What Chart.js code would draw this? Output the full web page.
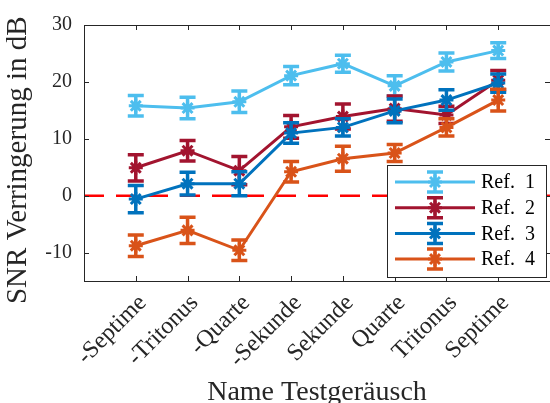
<!DOCTYPE html>
<html>
<head>
<meta charset="utf-8">
<script src="https://cdn.jsdelivr.net/npm/chart.js@4"></script>
<style>
  html, body { margin: 0; padding: 0; background: #fff; overflow: hidden; }
  #wrap { width: 560px; height: 403px; }
</style>
</head>
<body>
<div id="wrap"><canvas id="c" width="560" height="403"></canvas></div>
<script>
// Test signals (interval names) along the x axis
const categories = ['-Septime', '-Tritonus', '-Quarte', '-Sekunde', 'Sekunde', 'Quarte', 'Tritonus', 'Septime'];
const yTicks = [-10, 0, 10, 20, 30];
const seriesNames = ['Ref. 1', 'Ref. 2', 'Ref. 3', 'Ref. 4'];

// Mean SNR reduction (dB) and error half-widths per reference
const ref1 = [15.8, 15.4, 16.5, 21.1, 23.2, 19.3, 23.5, 25.5];
const ref1Err = [1.8, 1.9, 1.9, 1.6, 1.5, 1.8, 1.6, 1.4];
const ref2 = [4.9, 7.9, 4.4, 12.1, 13.9, 15.3, 14.2, 20.3];
const ref2Err = [2.3, 1.8, 2.5, 2.0, 2.2, 2.2, 1.5, 1.7];
const ref3 = [-0.6, 2.1, 2.1, 11.0, 12.0, 14.9, 16.8, 19.8];
const ref3Err = [2.4, 2.0, 2.1, 1.8, 1.5, 2.1, 1.8, 1.6];
const ref4 = [-8.8, -6.1, -9.6, 4.2, 6.5, 7.5, 12.0, 16.8];
const ref4Err = [1.9, 2.3, 1.8, 1.8, 2.2, 1.5, 1.5, 1.9];

const colors = ['#4DBEEE', '#A2142F', '#0072BD', '#D95319'];
const AXIS = '#262626';
const SERIF = '"Liberation Serif", "Times New Roman", serif';

const means = [ref1, ref2, ref3, ref4];
const errs = [ref1Err, ref2Err, ref3Err, ref4Err];

const datasets = means.map((vals, k) => ({
  label: seriesNames[k],
  data: vals.map((v, i) => ({ x: i + 1, y: v })),
  errors: errs[k],
  borderColor: colors[k],
  backgroundColor: colors[k],
  borderWidth: 3,
  pointStyle: 'star',
  pointRadius: 7,
  pointBorderWidth: 3,
  pointBackgroundColor: colors[k],
  pointBorderColor: colors[k],
  tension: 0,
  order: 4 - k,          // later series are painted on top
  inLegend: true
}));

// dashed zero reference line
datasets.push({
  label: 'zero',
  data: [{ x: 0, y: 0 }, { x: categories.length + 1, y: 0 }],
  borderColor: '#FF0000',
  borderWidth: 2.5,
  borderDash: [20, 12],
  pointRadius: 0,
  order: 10,
  inLegend: false
});

const CAP = 8;
const BAR_W = 3.5;

// vertical error bars with caps, drawn right after each series
const errorBars = {
  id: 'errorBars',
  afterDatasetDraw(chart, args) {
    const ds = chart.data.datasets[args.index];
    if (!ds.errors) return;
    const ctx = chart.ctx, xs = chart.scales.x, ys = chart.scales.y;
    ctx.save();
    ctx.strokeStyle = ds.borderColor;
    ctx.lineWidth = BAR_W;
    ctx.lineCap = 'butt';
    ds.data.forEach((p, i) => {
      const e = ds.errors[i];
      const px = xs.getPixelForValue(p.x);
      const t = ys.getPixelForValue(p.y + e);
      const b = ys.getPixelForValue(p.y - e);
      ctx.beginPath();
      ctx.moveTo(px, t); ctx.lineTo(px, b);
      ctx.moveTo(px - CAP, t); ctx.lineTo(px + CAP, t);
      ctx.moveTo(px - CAP, b); ctx.lineTo(px + CAP, b);
      ctx.stroke();
    });
    ctx.restore();
  }
};

// axes box with inward tick marks on all four sides
const axesBox = {
  id: 'axesBox',
  afterDatasetsDraw(chart) {
    const ctx = chart.ctx, a = chart.chartArea;
    const xs = chart.scales.x, ys = chart.scales.y;
    const L = 5;
    ctx.save();
    ctx.strokeStyle = AXIS;
    ctx.lineWidth = 1;
    ctx.beginPath();
    xs.ticks.forEach(t => {
      const px = Math.round(xs.getPixelForValue(t.value)) + 0.5;
      ctx.moveTo(px, a.bottom); ctx.lineTo(px, a.bottom - L);
      ctx.moveTo(px, a.top); ctx.lineTo(px, a.top + L);
    });
    ys.ticks.forEach(t => {
      const py = Math.round(ys.getPixelForValue(t.value)) + 0.5;
      ctx.moveTo(a.left, py); ctx.lineTo(a.left + L, py);
      ctx.moveTo(a.right, py); ctx.lineTo(a.right - L, py);
    });
    ctx.stroke();
    ctx.strokeRect(Math.round(a.left) + 0.5, Math.round(a.top) + 0.5,
                   Math.round(a.right - a.left), Math.round(a.bottom - a.top));
    ctx.restore();
  }
};

// legend box in the lower right corner of the axes
const boxLegend = {
  id: 'boxLegend',
  afterDraw(chart) {
    const ctx = chart.ctx, a = chart.chartArea;
    const items = chart.data.datasets.filter(d => d.inLegend);
    const w = 159, h = 112;
    const x0 = a.right - 4 - w, y0 = a.bottom - 4 - h;
    ctx.save();
    ctx.fillStyle = '#fff';
    ctx.fillRect(x0, y0, w, h);
    ctx.strokeStyle = AXIS;
    ctx.lineWidth = 1;
    ctx.strokeRect(Math.round(x0) + 0.5, Math.round(y0) + 0.5, w, h);
    const rowH = 25.7;
    items.forEach((d, i) => {
      const cy = y0 + 17 + i * rowH;
      const lx0 = x0 + 8, lx1 = x0 + 88, mx = x0 + 48;
      ctx.strokeStyle = d.borderColor;
      ctx.lineWidth = 3;
      ctx.setLineDash([]);
      ctx.beginPath();
      ctx.moveTo(lx0, cy); ctx.lineTo(lx1, cy);
      ctx.stroke();
      ctx.lineWidth = BAR_W;
      ctx.beginPath();
      ctx.moveTo(mx, cy - 10); ctx.lineTo(mx, cy + 10);
      ctx.moveTo(mx - CAP, cy - 10); ctx.lineTo(mx + CAP, cy - 10);
      ctx.moveTo(mx - CAP, cy + 10); ctx.lineTo(mx + CAP, cy + 10);
      ctx.stroke();
      ctx.lineWidth = 3;
      ctx.fillStyle = d.borderColor;
      Chart.helpers.drawPoint(ctx, { pointStyle: 'star', radius: 7, borderWidth: 3, rotation: 0 }, mx, cy);
      ctx.fillStyle = '#000';
      ctx.font = '20px ' + SERIF;
      ctx.textAlign = 'left';
      ctx.textBaseline = 'middle';
      ctx.fillText(d.label.replace('. ', '.\u2002'), x0 + 94, cy + 1);
    });
    ctx.restore();
  }
};

new Chart(document.getElementById('c'), {
  type: 'line',
  data: { datasets },
  options: {
    responsive: false,
    animation: false,
    devicePixelRatio: 1,
    layout: { padding: { top: 25, right: 9, left: 0, bottom: 0 } },
    plugins: { legend: { display: false }, tooltip: { enabled: false } },
    scales: {
      x: {
        type: 'linear',
        min: 0,
        max: categories.length + 1,
        afterBuildTicks: s => { s.ticks = categories.map((c, i) => ({ value: i + 1 })); },
        afterFit: s => { s.height = 122; },
        grid: { display: false, drawTicks: false },
        border: { display: false },
        ticks: {
          autoSkip: false,
          minRotation: 45,
          maxRotation: 45,
          padding: 8,
          labelOffset: 7,
          color: AXIS,
          font: { family: SERIF, size: 24 },
          callback: v => categories[v - 1] || ''
        },
        title: {
          display: true,
          text: 'Name Testgeräusch',
          color: AXIS,
          font: { family: SERIF, size: 28, lineHeight: 0.72 },
          padding: { top: 0, bottom: 0 }
        }
      },
      y: {
        min: -15,
        max: 30,
        afterBuildTicks: s => { s.ticks = yTicks.map(v => ({ value: v })); },
        afterFit: s => { s.width = 84; },
        grid: { display: false, drawTicks: false },
        border: { display: false },
        ticks: {
          padding: 12,
          color: AXIS,
          font: { family: SERIF, size: 20 },
          callback: v => String(v)
        },
        title: {
          display: true,
          text: 'SNR Verringerung in dB\u2002',
          color: AXIS,
          font: { family: SERIF, size: 29, lineHeight: 1 },
          padding: { top: 4, bottom: 0 }
        }
      }
    }
  },
  plugins: [errorBars, axesBox, boxLegend]
});
</script>
</body>
</html>
